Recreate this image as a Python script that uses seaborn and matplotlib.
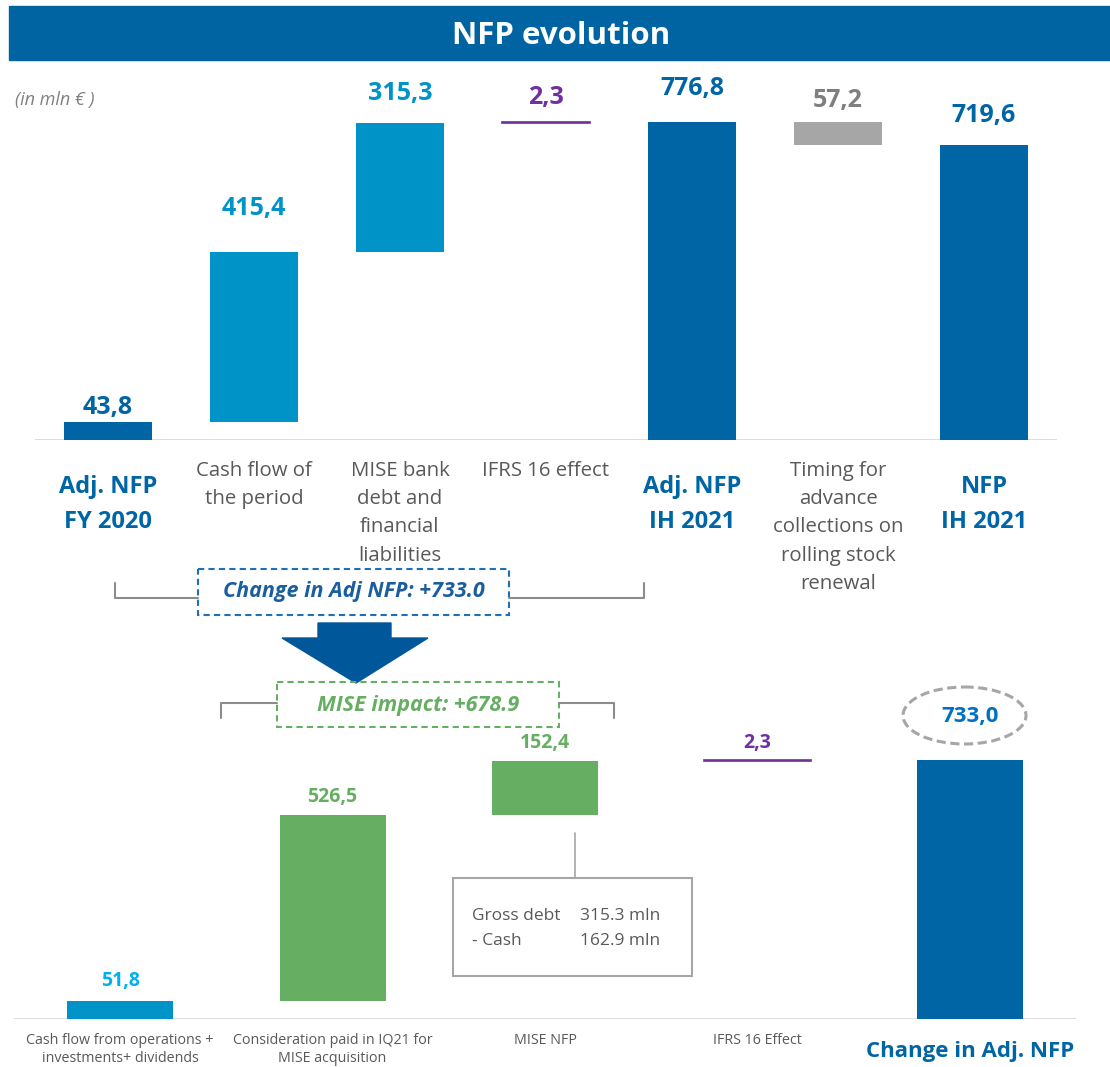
import matplotlib
matplotlib.use('Agg')
import matplotlib.pyplot as plt
import matplotlib.patches as mpatches
from matplotlib import font_manager
import pandas as pd
import seaborn as sns

W, H = 1110, 1067

TOP_CATS = ['Adj. NFP\nFY 2020', 'Cash flow of\nthe period', 'MISE bank\ndebt and\nfinancial\nliabilities',
            'IFRS 16 effect', 'Adj. NFP\nIH 2021', 'Timing for\nadvance\ncollections on\nrolling stock\nrenewal',
            'NFP\nIH 2021']
TOP_VALUES = [43.8, 415.4, 315.3, 2.3, 776.8, -57.2, 719.6]
TOP_KINDS = ['total', 'step', 'step', 'step', 'total', 'step', 'total']

BOTTOM_CATS = ['Cash flow from operations +\ninvestments+ dividends', 'Consideration paid in IQ21 for\nMISE acquisition',
               'MISE NFP', 'IFRS 16 Effect', 'Change in Adj. NFP']
BOTTOM_VALUES = [51.8, 526.5, 152.4, 2.3, 733.0]
BOTTOM_KINDS = ['step', 'step', 'step', 'step', 'total']

CHANGE_ADJ = 'Change in Adj NFP: +733.0'
MISE_IMPACT = 'MISE impact: +678.9'
MISE_DETAIL = [('Gross debt', '315.3 mln'), ('- Cash', '162.9 mln')]

BANNER = '#0064A3'
DARK_BLUE = '#0065A4'
LIGHT_BLUE = '#0093C8'
PURPLE = '#7030A0'
GREY_BAR = '#A6A6A6'
GREEN = '#66AE62'
TEXT_GREY = '#595959'
LINE_GREY = '#8C8C8C'

TOP_STYLE = dict(
    colors=[DARK_BLUE, LIGHT_BLUE, LIGHT_BLUE, PURPLE, DARK_BLUE, GREY_BAR, DARK_BLUE],
    label_colors=[DARK_BLUE, LIGHT_BLUE, LIGHT_BLUE, PURPLE, DARK_BLUE, '#7F7F7F', DARK_BLUE],
    label_pad=[15, 44, 29, 24, 33, 21, 30],
    label_size=[18] * 7,
    width=0.6, ymax=370 / 0.4094,
    cat_size=14.7, cat_gap=21, cat_spacing=1.55,
    total_size=17, total_gap=35, total_va='top', total_spacing=1.6,
)

BOTTOM_STYLE = dict(
    colors=[LIGHT_BLUE, GREEN, GREEN, PURPLE, DARK_BLUE],
    label_colors=['#00B0F0', GREEN, GREEN, PURPLE, '#0070C0'],
    label_pad=[20, 18, 18, 17, 44],
    label_size=[14, 14, 14, 14, 16],
    width=0.5, ymax=339 / 0.3533,
    cat_size=10.3, cat_gap=14, cat_spacing=1.3,
    total_size=16, total_gap=33, total_va='center', total_spacing=1.2,
)


def pick_font():
    names = {f.name for f in font_manager.fontManager.ttflist}
    for name in ['Liberation Sans Narrow', 'Open Sans', 'Liberation Sans']:
        if name in names:
            return name
    return 'DejaVu Sans'


def waterfall(cats, values, kinds):
    bottoms, heights = [], []
    running = 0
    for v, k in zip(values, kinds):
        if k == 'total':
            bottoms.append(0)
            heights.append(v)
            running = v
        else:
            bottoms.append(running + min(v, 0))
            heights.append(abs(v))
            running += v
    return pd.DataFrame({'category': cats, 'bottom': bottoms, 'height': heights, 'value': values, 'kind': kinds})


def px_axes(fig, left, top, right, bottom):
    return fig.add_axes([left / W, 1 - bottom / H, (right - left) / W, (bottom - top) / H])


def draw_waterfall(ax, df, s):
    sns.barplot(data=df, x='category', y='height', order=list(df['category']), bottom=df['bottom'].values,
                width=s['width'], color=s['colors'][0], saturation=1, ax=ax)
    for patch, c in zip(ax.patches, s['colors']):
        patch.set_facecolor(c)
        patch.set_edgecolor(c)
        patch.set_linewidth(1.2 if c == PURPLE else 0)

    ax.set_xlim(-0.5, len(df) - 0.5)
    ax.set_ylim(0, s['ymax'])
    ax.axis('off')
    ax.axhline(0, color='#D9D9D9', lw=2, zorder=0)

    for i, row in df.iterrows():
        label = f'{abs(row["value"]):.1f}'.replace('.', ',')
        top = row['bottom'] + row['height']
        ax.annotate(label, xy=(i, top), xytext=(0, s['label_pad'][i] * 0.72),
                    textcoords='offset points', ha='center', va='center', fontsize=s['label_size'][i],
                    fontweight='bold', color=s['label_colors'][i])
        if row['kind'] == 'total':
            ax.annotate(row['category'], xy=(i, 0), xytext=(0, -s['total_gap'] * 0.72),
                        textcoords='offset points', ha='center', va=s['total_va'],
                        fontsize=s['total_size'], fontweight='bold', color=DARK_BLUE,
                        linespacing=s['total_spacing'])
        else:
            ax.annotate(row['category'], xy=(i, 0), xytext=(0, -s['cat_gap'] * 0.72),
                        textcoords='offset points', ha='center', va='top', fontsize=s['cat_size'],
                        color=TEXT_GREY, linespacing=s['cat_spacing'])


def draw_overlay(ax):
    ax.set_xlim(0, W)
    ax.set_ylim(H, 0)
    ax.axis('off')

    ax.add_patch(mpatches.Rectangle((9, 6), W - 9, 54, color=BANNER))
    ax.text(561, 36, 'NFP evolution', color='white', fontsize=22.5, fontweight='bold', ha='center', va='center')
    ax.text(15, 100, '(in mln € )', color='#808080', fontsize=13, style='italic', va='center')

    # bracket and box for the total change
    ax.plot([115, 115, 198], [583, 598, 598], color=LINE_GREY, lw=1.5)
    ax.plot([509, 644, 644], [598, 598, 583], color=LINE_GREY, lw=1.5)
    ax.add_patch(mpatches.Rectangle((198, 569), 311, 46, fill=False, ec='#1F6FB5', lw=1.5, ls=(0, (3, 2))))
    ax.text(354, 592, CHANGE_ADJ, color='#1B5E9E', fontsize=15.5, fontweight='bold', style='italic',
            ha='center', va='center')

    ax.add_patch(mpatches.Polygon([(318, 623), (391, 623), (391, 638), (428, 638), (356, 683),
                                   (282, 638), (318, 638)], closed=True, color='#00589A'))

    # bracket and box for the MISE part
    ax.plot([221, 221, 277], [718, 703, 703], color=LINE_GREY, lw=1.5)
    ax.plot([559, 614, 614], [703, 703, 718], color=LINE_GREY, lw=1.5)
    ax.add_patch(mpatches.Rectangle((277, 682), 282, 45, fill=False, ec=GREEN, lw=1.5, ls=(0, (3, 2))))
    ax.text(418, 705, MISE_IMPACT, color=GREEN, fontsize=15.5, fontweight='bold', style='italic',
            ha='center', va='center')

    ax.add_patch(mpatches.Ellipse((964.5, 715.5), 123, 57, fill=False, ec='#A6A6A6', lw=2.2, ls=(0, (3, 1.5))))

    ax.plot([575, 575], [833, 878], color='#A6A6A6', lw=1.2)
    ax.add_patch(mpatches.Rectangle((453, 878), 239, 98, fill=False, ec='#A6A6A6', lw=1.5))
    for j, (name, amount) in enumerate(MISE_DETAIL):
        ax.text(472, 916 + 25 * j, name, color=TEXT_GREY, fontsize=12.5, va='center')
        ax.text(580, 916 + 25 * j, amount, color=TEXT_GREY, fontsize=12.5, va='center')


def main():
    sns.set_theme(style='white')
    plt.rcParams['font.family'] = [pick_font(), 'DejaVu Sans']

    fig = plt.figure(figsize=(W / 100, H / 100), dpi=100)
    overlay = fig.add_axes([0, 0, 1, 1])
    draw_overlay(overlay)

    top = px_axes(fig, 35, 70, 1057, 440)
    draw_waterfall(top, waterfall(TOP_CATS, TOP_VALUES, TOP_KINDS), TOP_STYLE)

    bottom = px_axes(fig, 14, 680, 1076, 1019)
    draw_waterfall(bottom, waterfall(BOTTOM_CATS, BOTTOM_VALUES, BOTTOM_KINDS), BOTTOM_STYLE)

    fig.savefig('out.png', dpi=100)


if __name__ == '__main__':
    main()
